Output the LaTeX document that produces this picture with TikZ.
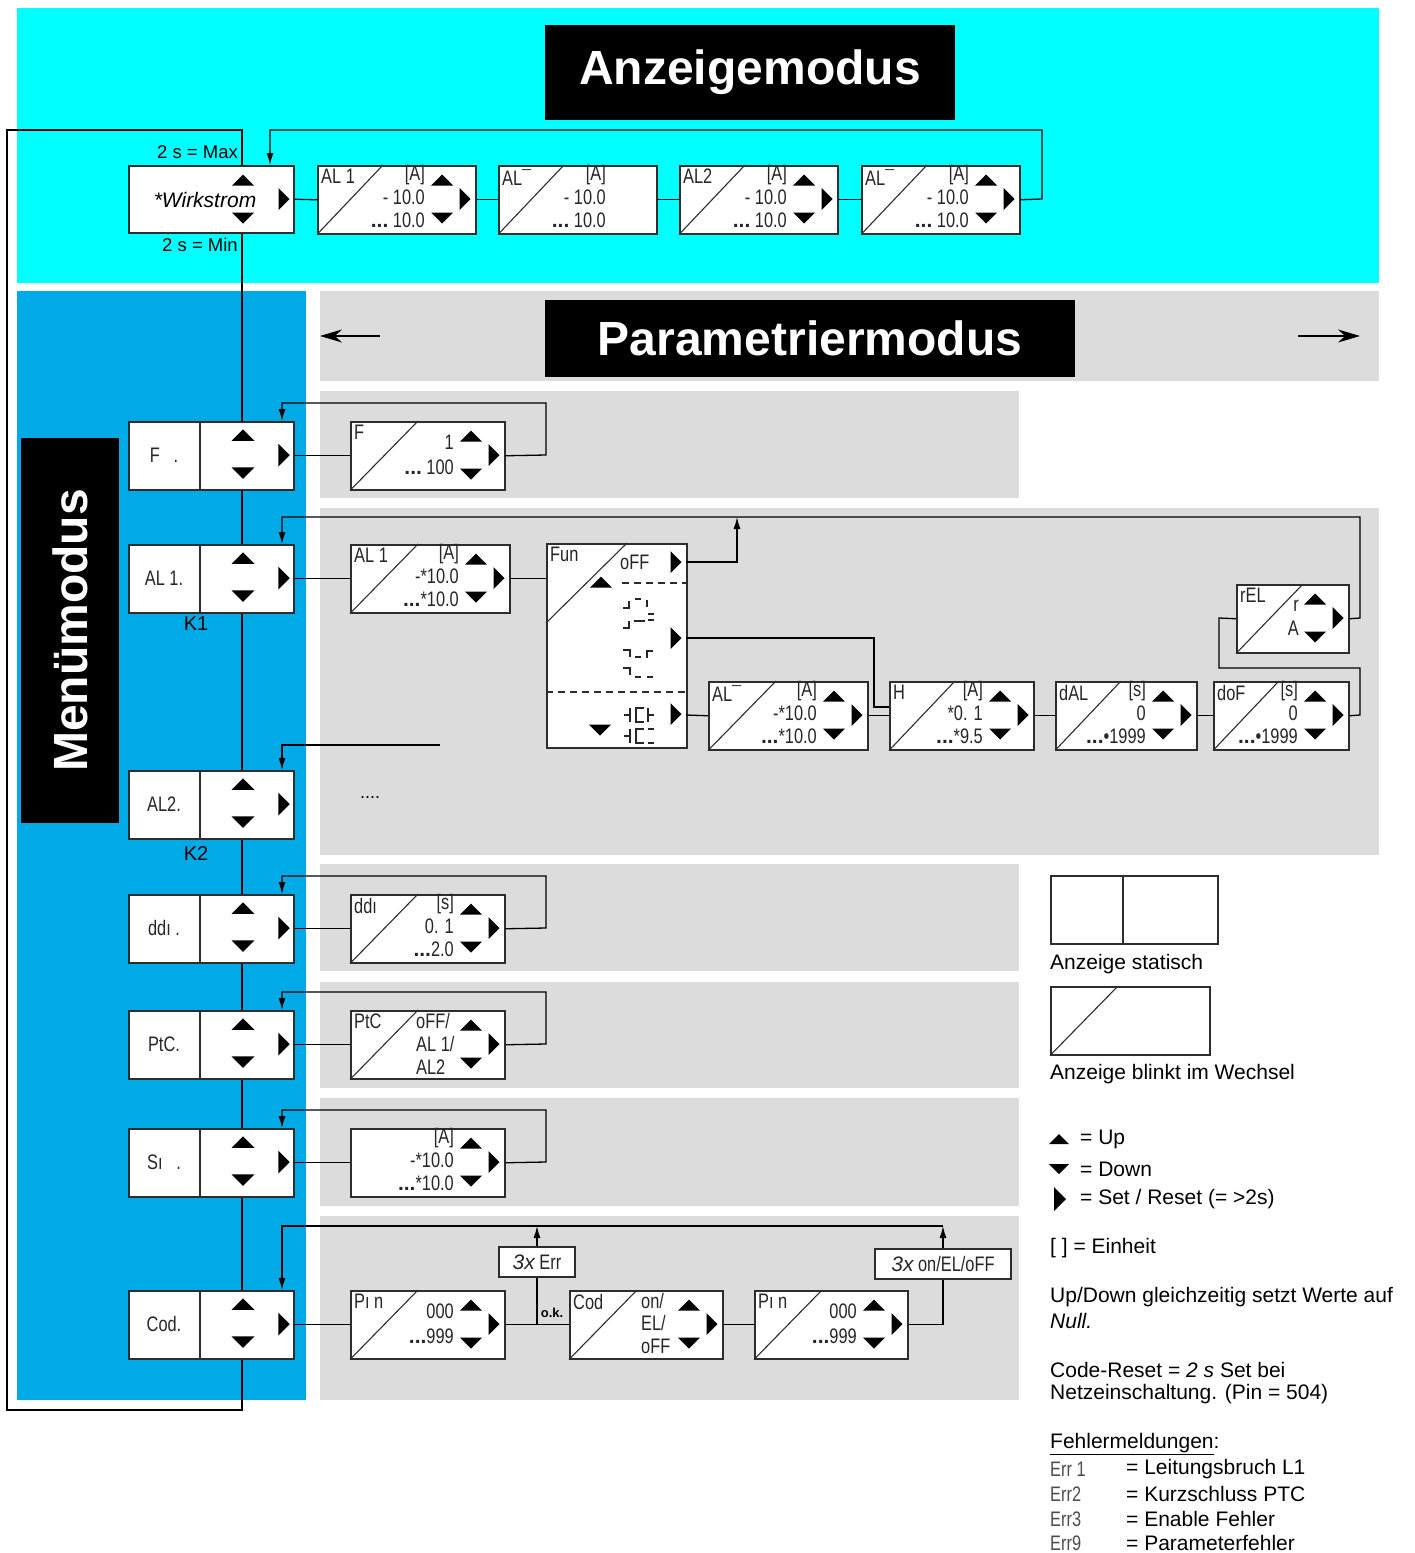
\documentclass[tikz,border=0pt]{standalone}
\usepackage{fontspec}
\setmainfont{Liberation Sans}
\newfontfamily\segfont[FakeStretch=0.78]{Liberation Sans}
\usetikzlibrary{arrows.meta}
\definecolor{cyanbg}{RGB}{0,255,255}
\definecolor{menublue}{RGB}{0,170,230}
\definecolor{pgrey}{RGB}{220,220,220}
\definecolor{edgec}{RGB}{45,45,45}
\pgfdeclarelayer{bg}
\pgfsetlayers{bg,main}
\newcommand{\trU}[3][11]{\fill[black] ({#2-#1},{#3+0.5*#1}) -- ({#2+#1},{#3+0.5*#1}) -- ({#2},{#3-0.5*#1}) -- cycle;}
\newcommand{\trD}[3][11]{\fill[black] ({#2-#1},{#3-0.5*#1}) -- ({#2+#1},{#3-0.5*#1}) -- ({#2},{#3+0.5*#1}) -- cycle;}
\newcommand{\trR}[3][11]{\fill[black] ({#2-0.5*#1},{#3-#1}) -- ({#2-0.5*#1},{#3+#1}) -- ({#2+0.5*#1},{#3}) -- cycle;}
\newcommand{\dbx}[5]{\node[dbox,minimum width=#4,minimum height=#5] (#1) at (#2,#3) {};}
\newcommand{\dg}[2]{\draw[diagl] (#1.south west) -- ([xshift=#2pt]#1.north west);}
\newcommand{\lab}[4]{\node[seg,anchor=north west] (#1) at ({#2+4},{#3+4}) {#4};}
\newcommand{\vIII}[6]{%
  \node[seg,anchor=east] (#1u) at ({#2-50},{#3+10}) {#4};
  \node[seg,anchor=east] (#1a) at ({#2-50},{#3+32}) {#5};
  \node[seg,anchor=east] (#1b) at ({#2-50},{#3+55}) {#6};}
\newcommand{\vII}[5]{%
  \node[seg,anchor=east] (#1a) at ({#2-50},{#3+21}) {#4};
  \node[seg,anchor=east] (#1b) at ({#2-50},{#3+46}) {#5};}
\newcommand{\tri}[2]{\trU{#1-33}{#2+15}\trD{#1-33}{#2+53}\trR{#1-10}{#2+34}}
\newcommand{\dd}{{\rmfamily\bfseries...}}
\newcommand{\mbx}[3]{%
  \node[dbox,minimum width=165,minimum height=68] (#1) at (128,#2) {};
  \draw[boxl] (200,#2) -- (200,{#2+68});
  \node[seg] (#1t) at (164,{#2+34}) {#3};
  \trU[11.5]{243}{#2+14}\trD[11.5]{243}{#2+52}\trR[11.5]{284}{#2+34}}
\begin{document}
\begin{tikzpicture}[x=1pt,y=-1pt,
  conn/.style={line width=1.3pt,draw=black},
  arr/.style={conn,-{Latex[length=12pt,width=7pt]}},
  bigarr/.style={line width=1.5pt,draw=black,-{Stealth[length=22pt,width=13pt]}},
  dbox/.style={draw=edgec,line width=1.5pt,fill=white,inner sep=0pt,anchor=north west},
  boxl/.style={draw=edgec,line width=1.5pt},
  diagl/.style={draw=edgec,line width=1.1pt},
  seg/.style={font=\segfont\fontsize{21}{21}\selectfont,inner sep=0pt,text=black!85},
  txt/.style={font=\fontsize{21}{25}\selectfont,inner sep=0pt,anchor=west},
  hdr/.style={fill=black,text=white,font=\bfseries\fontsize{48}{48}\selectfont,inner sep=0pt},
  sym/.style={draw=black!85,line width=1.3pt},
  smt/.style={font=\fontsize{18.5}{18.5}\selectfont,inner sep=0pt}]
\useasboundingbox (0,0) rectangle (1414,1553);

% ---------- headings ----------
\node[hdr,minimum width=410,minimum height=95] (hA) at (750,72.5) {Anzeigemodus};
\node[hdr,minimum width=530,minimum height=77] (hP) at (810,338.5) {Parametriermodus};
\node[hdr,rotate=90,minimum width=385,minimum height=98] (hM) at (70,630.5) {Menümodus};
\coordinate (pa1) at (380,336); \coordinate (pa2) at (320,336);
\coordinate (pb1) at (1298,336); \coordinate (pb2) at (1360,336);
\draw[bigarr] (pa1) -- (pa2);
\draw[bigarr] (pb1) -- (pb2);

% ---------- Anzeigemodus row ----------
\node[dbox,minimum width=165,minimum height=67] (wk) at (128,165) {};
\node[font=\itshape\fontsize{21}{21}\selectfont,inner sep=0pt] (wkt) at (205,200) {*Wirkstrom};
\trU[11]{243}{180}\trD[11]{243}{218}\trR[11]{284}{199}
\node[smt,anchor=east] (mx) at (238,152) {2 s = Max};
\node[smt,anchor=east] (mn) at (238,245) {2 s = Min};

\dbx{d1}{317}{165}{158}{68}\dg{d1}{66}\lab{d1l}{317}{165}{AL 1}\vIII{d1}{475}{165}{[A]}{- 10.0}{\dd\ 10.0}\tri{475}{165}
\dbx{d2}{498}{165}{158}{68}\dg{d2}{66}\lab{d2l}{498}{165}{AL¯}\vIII{d2}{656}{165}{[A]}{- 10.0}{\dd\ 10.0}
\dbx{d3}{679}{165}{158}{68}\dg{d3}{66}\lab{d3l}{679}{165}{AL2}\vIII{d3}{837}{165}{[A]}{- 10.0}{\dd\ 10.0}\tri{837}{165}
\dbx{d4}{861}{165}{158}{68}\dg{d4}{66}\lab{d4l}{861}{165}{AL¯}\vIII{d4}{1019}{165}{[A]}{- 10.0}{\dd\ 10.0}\tri{1019}{165}
\draw[conn] (wk.east) -- (d1.west);
\draw[conn] (d1.east) -- (d2.west);
\draw[conn] (d2.east) -- (d3.west);
\draw[conn] (d3.east) -- (d4.west);
\draw[arr] (d4.east) -- (1042,199) -- (1042,130) -- (270,130) -- (270,165);
\draw[conn] (242,165) -- (242,130) -- (7,130) -- (7,1410) -- (242,1410) -- (242,1357);

% ---------- Menu column ----------
\mbx{mF}{421}{F\ \ \ .}
\mbx{mA1}{544}{AL 1.}
\mbx{mA2}{770}{AL2.}
\mbx{mDd}{894}{ddı\ .}
\mbx{mPt}{1010}{PtC.}
\mbx{mSi}{1128}{Sı\ \ \ .}
\mbx{mCo}{1290}{Cod.}
\node[font=\fontsize{20}{20}\selectfont,inner sep=0pt] (k1) at (196,624) {K1};
\node[font=\fontsize{20}{20}\selectfont,inner sep=0pt] (k2) at (196,854) {K2};

% ---------- F row ----------
\dbx{fd}{350}{421}{154}{68}\dg{fd}{68}\lab{fdl}{350}{421}{F}\vII{fd}{504}{421}{1}{\dd\ 100}\tri{504}{421}
\draw[conn] (mF.east) -- (fd.west);
\draw[arr] (fd.east) -- (546,455) -- (546,403) -- (282,403) -- (282,421);

% ---------- AL1 row ----------
\dbx{a1d}{350}{544}{159}{68}\dg{a1d}{68}\lab{a1l}{350}{544}{AL 1}\vIII{a1d}{509}{544}{[A]}{-*10.0}{\dd*10.0}\tri{509}{544}
\dbx{fun}{546}{543}{140}{204}
\draw[diagl] (546,623) -- (627,543);
\draw[edgec,line width=1.3pt,dash pattern=on 7pt off 5pt] (622,583) -- (686,583);
\draw[edgec,line width=1.3pt,dash pattern=on 7pt off 5pt] (546,692) -- (686,692);
\lab{funl}{546}{543}{Fun}
\node[seg,anchor=west] (funo) at (620,562) {oFF};
\trR[11]{676}{562}\trR[11]{676}{638}\trR[11]{676}{714}
\trU[11]{601}{582}\trD[11]{600}{730}
% alarm function symbols
\draw[sym] (623,608) -- (629,608) -- (629,601);
\draw[sym] (635,599) -- (641,599);
\draw[sym] (647,600) -- (647,607);
\draw[sym] (648,614) -- (654,614);
\draw[sym] (623,628) -- (629,628) -- (629,621);
\draw[sym] (634,621) -- (645,621);
\draw[sym] (648,620) -- (654,620);
\draw[sym] (623,650) -- (630,650) -- (630,657);
\draw[sym] (635,657) -- (641,657);
\draw[sym] (647,658) -- (647,651) -- (653,651);
\draw[sym] (623,668) -- (630,668) -- (630,675);
\draw[sym] (635,677) -- (641,677);
\draw[sym] (647,677) -- (653,677);
\draw[sym] (624,715) -- (629,715);
\draw[sym] (630,708) -- (630,722);
\draw[sym] (644,708) -- (636,708) -- (636,722) -- (644,722);
\draw[sym] (648,708) -- (648,722);
\draw[sym] (648,715) -- (654,715);
\draw[sym] (624,736) -- (629,736);
\draw[sym] (630,729) -- (630,743);
\draw[sym] (644,729) -- (636,729) -- (636,743) -- (644,743);
\draw[sym] (648,729) -- (654,729);
\draw[sym] (648,743) -- (654,743);

\dbx{alm}{708}{681}{159}{68}\dg{alm}{68}\lab{alml}{708}{681}{AL¯}\vIII{alm}{867}{681}{[A]}{-*10.0}{\dd*10.0}\tri{867}{681}
\dbx{hd}{889}{681}{144}{68}\dg{hd}{66}\lab{hdl}{889}{681}{H}\vIII{hd}{1033}{681}{[A]}{*0. 1}{\dd*9.5}\tri{1033}{681}
\dbx{dal}{1055}{681}{141}{68}\dg{dal}{66}\lab{dall}{1055}{681}{dAL}\vIII{dal}{1196}{681}{[s]}{0}{\dd•1999}\tri{1196}{681}
\dbx{dof}{1213}{681}{135}{68}\dg{dof}{66}\lab{dofl}{1213}{681}{doF}\vIII{dof}{1348}{681}{[s]}{0}{\dd•1999}\tri{1348}{681}
\dbx{rel}{1236}{584}{112}{68}\dg{rel}{67}\lab{rell}{1236}{584}{rEL}
\node[seg,anchor=east] (rela) at (1299,606) {r};
\node[seg,anchor=east] (relb) at (1299,628) {A};
\tri{1348}{584}

\draw[conn] (mA1.east) -- (a1d.west);
\draw[conn] (a1d.east) -- (a1d.east -| fun.west);
\draw[arr] (686,562) -- (737,562) -- (737,517);
\draw[conn] (686,638) -- (874,638) -- (874,707) -- (889,707);
\draw[conn] (686,715) -- (alm.west);
\draw[conn] (alm.east) -- (hd.west);
\draw[conn] (hd.east) -- (dal.west);
\draw[conn] (dal.east) -- (dof.west);
\draw[conn] (dof.east) -- (1360,715) -- (1360,668) -- (1219,668) -- (1219,618) -- (rel.west);
\draw[arr] (rel.east) -- (1360,618) -- (1360,517) -- (282,517) -- (282,544);

% ---------- AL2 row ----------
\coordinate (a2s) at (440,745);
\draw[arr] (a2s) -- (282,745) -- (282,770);
\node[font=\fontsize{18}{18}\selectfont,inner sep=0pt] (dots) at (370,798) {....};

% ---------- ddi row ----------
\dbx{ddd}{350}{894}{154}{68}\dg{ddd}{68}\lab{dddl}{350}{894}{ddı}\vIII{ddd}{504}{894}{[s]}{0. 1}{\dd2.0}\tri{504}{894}
\draw[conn] (mDd.east) -- (ddd.west);
\draw[arr] (ddd.east) -- (546,928) -- (546,876) -- (282,876) -- (282,894);

% ---------- PtC row ----------
\dbx{ptd}{350}{1010}{154}{68}\dg{ptd}{68}\lab{ptdl}{350}{1010}{PtC}
\node[seg,anchor=west] (pt1) at (416,1021) {oFF/};
\node[seg,anchor=west] (pt2) at (416,1044) {AL 1/};
\node[seg,anchor=west] (pt3) at (416,1067) {AL2};
\tri{504}{1010}
\draw[conn] (mPt.east) -- (ptd.west);
\draw[arr] (ptd.east) -- (546,1044) -- (546,992) -- (282,992) -- (282,1010);

% ---------- Si row ----------
\dbx{sid}{350}{1128}{154}{68}\vIII{sid}{504}{1128}{[A]}{-*10.0}{\dd*10.0}\tri{504}{1128}
\draw[conn] (mSi.east) -- (sid.west);
\draw[arr] (sid.east) -- (546,1162) -- (546,1110) -- (282,1110) -- (282,1128);

% ---------- Cod row ----------
\dbx{p1}{350}{1290}{154}{68}\dg{p1}{68}\lab{p1l}{350}{1290}{Pı n}\vII{p1}{504}{1290}{000}{\dd999}\tri{504}{1290}
\dbx{cd}{569}{1290}{153}{68}\dg{cd}{68}\lab{cdl}{569}{1290}{Cod}
\node[seg,anchor=west] (cd1) at (641,1301) {on/};
\node[seg,anchor=west] (cd2) at (641,1323) {EL/};
\node[seg,anchor=west] (cd3) at (641,1346) {oFF};
\tri{722}{1290}
\dbx{p2}{754}{1290}{153}{68}\dg{p2}{68}\lab{p2l}{754}{1290}{Pı n}\vII{p2}{907}{1290}{000}{\dd999}\tri{907}{1290}
\node[draw=edgec,line width=1.3pt,fill=white,minimum width=76,minimum height=30,inner sep=0pt,seg] (b3e) at (537,1262) {{\rmfamily\itshape 3x} Err};
\node[draw=edgec,line width=1.3pt,fill=white,minimum width=136,minimum height=30,inner sep=0pt,seg] (b3o) at (943,1264) {{\rmfamily\itshape 3x} on/EL/oFF};
\node[font=\bfseries\fontsize{13}{13}\selectfont,inner sep=0pt] (ok) at (552,1313) {o.k.};
\draw[conn] (mCo.east) -- (p1.west);
\draw[conn] (p1.east) -- (cd.west);
\draw[conn] (537,1324) -- (b3e.south);
\draw[arr] (b3e.north) -- (537,1226);
\draw[conn] (cd.east) -- (p2.west);
\draw[conn] (p2.east) -| (b3o.south);
\draw[arr] (b3o.north) -- (943,1226);
\draw[arr] (943,1226) -- (282,1226) -- (282,1290);

% ---------- legend ----------
\node[dbox,minimum width=167,minimum height=68] (ls) at (1050,875) {};
\draw[boxl] (1123,875) -- (1123,943);
\node[txt] (lst) at (1050,964) {Anzeige statisch};
\node[dbox,minimum width=159,minimum height=68] (lb) at (1050,986) {};
\dg{lb}{68}
\node[txt] (lbt) at (1050,1074) {Anzeige blinkt im Wechsel};
\trU[10]{1059}{1139}\trD[10]{1059}{1169}\trR[12]{1060}{1199}
\node[txt] (lup) at (1080,1139) {= Up};
\node[txt] (ldn) at (1080,1169) {= Down};
\node[txt] (lset) at (1080,1199) {= Set / Reset (= >2s)};
\node[txt] (lein) at (1050,1248) {[ ] = Einheit};
\node[txt] (lnul1) at (1050,1297) {Up/Down gleichzeitig setzt Werte auf};
\node[txt] (lnul2) at (1050,1321) {\itshape Null.};
\node[txt] (lcod1) at (1050,1370) {Code-Reset = \textit{2 s} Set bei};
\node[txt] (lcod2) at (1050,1394) {Netzeinschaltung. (Pin = 504)};
\node[txt] (lfe) at (1050,1444) {\underline{Fehlermeldungen}:};
\node[seg,anchor=west,text=black!70] (e1) at (1050,1469) {Err 1};
\node[seg,anchor=west,text=black!70] (e2) at (1050,1494) {Err2};
\node[seg,anchor=west,text=black!70] (e3) at (1050,1519) {Err3};
\node[seg,anchor=west,text=black!70] (e9) at (1050,1543) {Err9};
\node[txt] (e1t) at (1126,1469) {= Leitungsbruch L1};
\node[txt] (e2t) at (1126,1494) {= Kurzschluss PTC};
\node[txt] (e3t) at (1126,1519) {= Enable Fehler};
\node[txt] (e9t) at (1126,1543) {= Parameterfehler};

% ---------- backgrounds ----------
\begin{pgfonlayer}{bg}
\fill[cyanbg] (17,8) rectangle (1379,283);
\fill[menublue] (17,291) rectangle (306,1400);
\fill[pgrey] (320,291) rectangle (1379,381);
\fill[pgrey] (320,391) rectangle (1019,498);
\fill[pgrey] (320,508) rectangle (1379,855);
\fill[pgrey] (320,864) rectangle (1019,971);
\fill[pgrey] (320,982) rectangle (1019,1088);
\fill[pgrey] (320,1098) rectangle (1019,1206);
\fill[pgrey] (320,1216) rectangle (1019,1400);
\draw[conn] (242,232) -- (242,1357);
\end{pgfonlayer}
\end{tikzpicture}
\end{document}
